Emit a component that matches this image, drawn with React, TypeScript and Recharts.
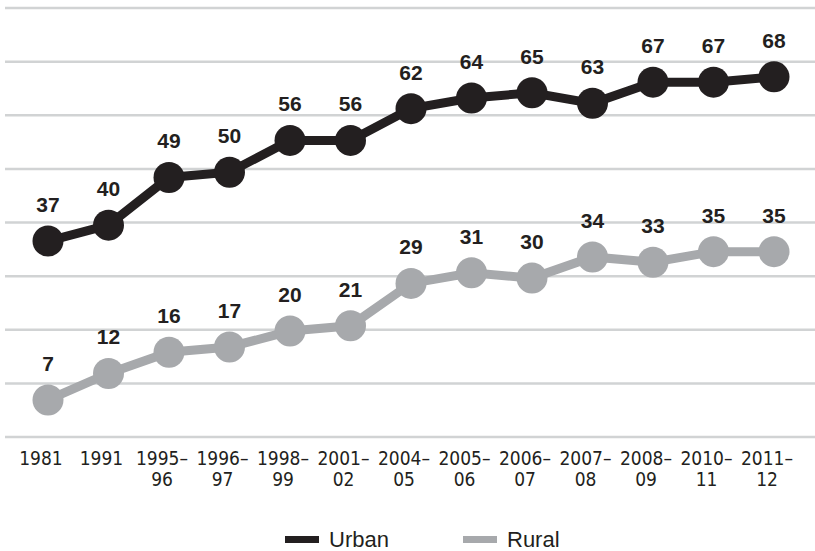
import { LineChart, Line, XAxis, YAxis, CartesianGrid, Legend, LabelList } from 'recharts'

const categories = [
  '1981', '1991', '1995–96', '1996–97', '1998–99', '2001–02', '2004–05',
  '2005–06', '2006–07', '2007–08', '2008–09', '2010–11', '2011–12',
]
const urban = [37, 40, 49, 50, 56, 56, 62, 64, 65, 63, 67, 67, 68]
const rural = [7, 12, 16, 17, 20, 21, 29, 31, 30, 34, 33, 35, 35]

// gridlines: 8 equal bands over the value axis
const yMax = 81
const gridBands = 8
const yTicks = Array.from({ length: gridBands + 1 }, (_, i) => (i * yMax) / gridBands)

const URBAN = '#231f20'
const RURAL = '#a7a9ac'
const INK = '#231f20'

const data = categories.map((name, i) => ({ name, Urban: urban[i], Rural: rural[i] }))

function YearTick(props: any) {
  const { x, y, payload } = props
  const label: string = payload.value
  const cut = label.indexOf('–')
  const lines = cut >= 0 ? [label.slice(0, cut + 1), label.slice(cut + 1)] : [label]
  return (
    <text
      x={x - 7}
      y={y + 20}
      textAnchor="middle"
      fill={INK}
      fontSize={19}
      fontFamily="'Liberation Sans Narrow', 'DejaVu Sans Condensed', sans-serif"
    >
      {lines.map((t, i) => (
        <tspan key={i} x={x - 7} dy={i === 0 ? 0 : 21}>
          {t}
        </tspan>
      ))}
    </text>
  )
}

function LegendBox() {
  const items = [
    { name: 'Urban', color: URBAN },
    { name: 'Rural', color: RURAL },
  ]
  return (
    <div style={{ display: 'flex', paddingLeft: 285, paddingTop: 17, height: 23 }}>
      {items.map((it) => (
        <div key={it.name} style={{ display: 'flex', alignItems: 'center', width: 178 }}>
          <span style={{ width: 34, height: 7, background: it.color, marginRight: 10 }} />
          <span style={{ fontSize: 22, lineHeight: '22px', color: INK, fontFamily: "'Liberation Sans', Arial, sans-serif" }}>
            {it.name}
          </span>
        </div>
      ))}
    </div>
  )
}

export default function App() {
  return (
    <div style={{ position: 'absolute', left: 0, top: 0, background: '#fff' }}>
      <LineChart
        width={815}
        height={551}
        data={data}
        margin={{ top: 8, right: 0, left: 5, bottom: 0 }}
      >
        <CartesianGrid vertical={false} stroke="#d1d3d4" strokeWidth={2.5} />
        <XAxis
          dataKey="name"
          axisLine={false}
          tickLine={false}
          interval={0}
          height={74}
          padding={{ left: 43, right: 41 }}
          tick={<YearTick />}
        />
        <YAxis hide domain={[0, yMax]} ticks={yTicks} />
        <Legend
          verticalAlign="bottom"
          content={<LegendBox />}
          wrapperStyle={{ left: 0, width: 815, height: 40, bottom: 0 }}
        />
        <Line
          dataKey="Urban"
          stroke={URBAN}
          strokeWidth={9}
          dot={{ r: 15.5, fill: URBAN, stroke: URBAN, strokeWidth: 0 }}
          activeDot={false}
          isAnimationActive={false}
        >
          <LabelList
            dataKey="Urban"
            position="top"
            offset={29}
            fill={INK}
            fontSize={21}
            fontWeight="bold"
            fontFamily="'Liberation Sans', Arial, sans-serif"
          />
        </Line>
        <Line
          dataKey="Rural"
          stroke={RURAL}
          strokeWidth={9}
          dot={{ r: 15.5, fill: RURAL, stroke: RURAL, strokeWidth: 0 }}
          activeDot={false}
          isAnimationActive={false}
        >
          <LabelList
            dataKey="Rural"
            position="top"
            offset={29}
            fill={INK}
            fontSize={21}
            fontWeight="bold"
            fontFamily="'Liberation Sans', Arial, sans-serif"
          />
        </Line>
      </LineChart>
    </div>
  )
}
